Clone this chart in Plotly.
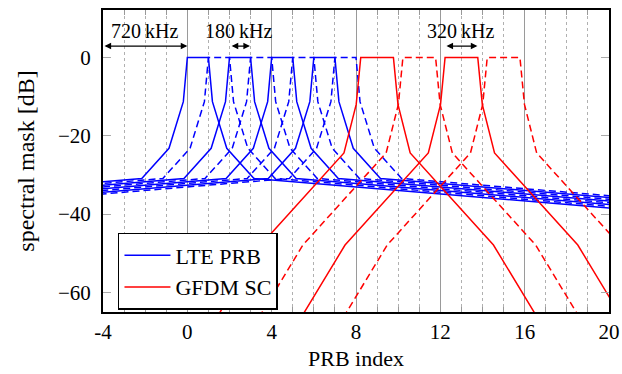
import plotly.graph_objects as go

# ---------------- data ----------------
# LTE physical resource blocks (PRB), each occupies [start, start+1]
lte_prb_start = [0, 1, 2, 3, 4, 5, 6, 7]
lte_prb_dashed = [False, True, False, True, False, True, False, True]
lte_prb_width = 1.0
# LTE mask: distance from PRB edge (in PRB) vs. level (dB)
lte_offset = [0.0, 0.19, 0.87, 2.16, 20.0]
lte_mask_db = [0.0, -11.3, -23.2, -30.9, -38.9]

# GFDM subcarriers (SC), centred at these PRB indices
gfdm_center = [9, 11, 13, 15]
gfdm_dashed = [False, True, False, True]
# GFDM mask: distance from SC centre (in PRB) vs. level (dB)
gfdm_offset = [0.775, 0.99, 1.57, 5.52, 7.6]
gfdm_mask_db = [0.0, -12.0, -24.4, -47.9, -66.4]

# bandwidth annotations
bw_labels = ["720\u2009kHz", "180\u2009kHz", "320\u2009kHz"]
bw_x0 = [-4.0, 2.03, 12.22]
bw_x1 = [0.0, 2.97, 13.76]
bw_text_x = [-2.04, 2.45, 12.97]

x_tick_vals = [-4, 0, 4, 8, 12, 16, 20]
x_tick_text = ["-4", "0", "4", "8", "12", "16", "20"]
y_tick_vals = [0, -20, -40, -60]

BLUE = "#0000FF"
RED = "#FF0000"
FONT = "Liberation Serif, Times New Roman, serif"

fig = go.Figure()

# LTE PRBs
first = True
for start, dashed in zip(lte_prb_start, lte_prb_dashed):
    left, right = start, start + lte_prb_width
    xs = [left - d for d in reversed(lte_offset)] + [right + d for d in lte_offset]
    ys = list(reversed(lte_mask_db)) + list(lte_mask_db)
    fig.add_trace(go.Scatter(
        x=xs, y=ys, mode="lines",
        line=dict(color=BLUE, width=1.5, dash="7px,4px" if dashed else "solid"),
        name="LTE PRB", legendgroup="lte", showlegend=first and not dashed,
        hoverinfo="skip",
    ))
    if not dashed:
        first = False

# GFDM SCs
first = True
for c, dashed in zip(gfdm_center, gfdm_dashed):
    xs = [c - d for d in reversed(gfdm_offset)] + [c + d for d in gfdm_offset]
    ys = list(reversed(gfdm_mask_db)) + list(gfdm_mask_db)
    fig.add_trace(go.Scatter(
        x=xs, y=ys, mode="lines",
        line=dict(color=RED, width=1.5, dash="7px,4px" if dashed else "solid"),
        name="GFDM SC", legendgroup="gfdm", showlegend=first and not dashed,
        hoverinfo="skip",
    ))
    if not dashed:
        first = False

annotations = []
for lab, x0, x1, tx in zip(bw_labels, bw_x0, bw_x1, bw_text_x):
    annotations.append(dict(
        x=x1, y=2.9, ax=x0, ay=2.9, xref="x", yref="y", axref="x", ayref="y",
        text="", showarrow=True, arrowside="end+start", arrowhead=2,
        arrowsize=1.1, arrowwidth=1.2, arrowcolor="black",
        standoff=0, startstandoff=0,
    ))
    annotations.append(dict(
        x=tx, y=6.8, xref="x", yref="y", text=lab, showarrow=False,
        font=dict(family=FONT, size=20, color="black"),
        xanchor="center", yanchor="middle",
    ))

fig.update_layout(
    width=622, height=374,
    margin=dict(l=103, r=13, t=10, b=62, autoexpand=False),
    paper_bgcolor="white", plot_bgcolor="white",
    font=dict(family=FONT, size=21, color="black"),
    annotations=annotations,
    legend=dict(
        x=0.0296, y=0.2616, xanchor="left", yanchor="top",
        bgcolor="white", bordercolor="black", borderwidth=1.5,
        font=dict(family=FONT, size=22, color="black"),
        itemwidth=46, tracegroupgap=0,
        entrywidth=125, entrywidthmode="pixels",
    ),
    xaxis=dict(
        range=[-4, 20], tickmode="array", tickvals=x_tick_vals, ticktext=x_tick_text,
        ticks="inside", ticklen=5, tickcolor="#999999",
        showgrid=True, gridcolor="#9a9a9a", gridwidth=1,
        minor=dict(dtick=1, tick0=0, showgrid=True, griddash="dot",
                   gridcolor="#b0b0b0", gridwidth=1,
                   ticks="inside", ticklen=5, tickcolor="#999999"),
        showline=True, linecolor="black", linewidth=2, mirror="ticks",
        zeroline=False, automargin=False,
        title=dict(text="PRB index", font=dict(family=FONT, size=22), standoff=7),
        tickfont=dict(family=FONT, size=21),
    ),
    yaxis=dict(
        range=[-65, 12.1], tickmode="array", tickvals=y_tick_vals,
        ticks="inside", ticklen=8, tickcolor="#aaaaaa",
        showgrid=False, zeroline=False, automargin=False,
        showline=True, linecolor="black", linewidth=2, mirror="ticks",
        title=dict(text="spectral mask [dB]", font=dict(family=FONT, size=24), standoff=17),
        tickfont=dict(family=FONT, size=21),
        ticklabelstandoff=6,
    ),
)

fig.write_html("out.html", config={"displayModeBar": False},
               post_script="document.body.style.margin='0';document.body.style.padding='0';")
